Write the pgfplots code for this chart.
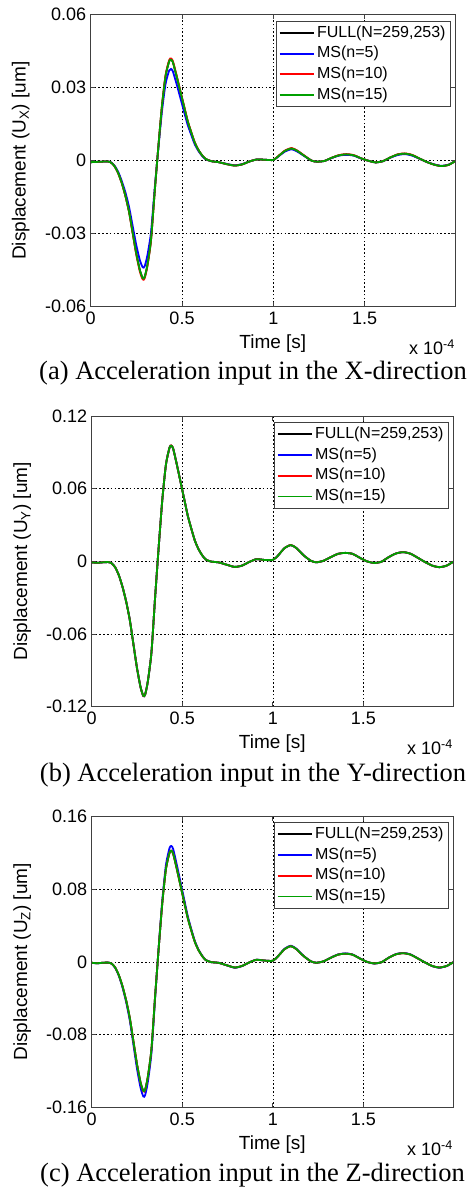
\documentclass[border=0pt]{standalone}
\usepackage{fontspec}
\setmainfont{Liberation Sans}
\newfontfamily\capfont{Liberation Serif}
\usepackage{pgfplots}
\usepackage{pgfplotstable}
\pgfplotsset{compat=1.18}

\definecolor{mblue}{RGB}{0,0,255}
\definecolor{mred}{RGB}{255,0,0}
\definecolor{mgreen}{RGB}{0,160,0}

\pgfplotstableread{
t full ms5 ms10 ms15
0.00 -0.0006 -0.0006 -0.0006 -0.0006
0.03 -0.0005 -0.0005 -0.0005 -0.0005
0.06 -0.0004 -0.0004 -0.0004 -0.0004
0.09 -0.0003 -0.0003 -0.0003 -0.0003
0.11 -0.0007 -0.0006 -0.0007 -0.0007
0.13 -0.0022 -0.0020 -0.0022 -0.0022
0.15 -0.0050 -0.0045 -0.0051 -0.0050
0.17 -0.0091 -0.0083 -0.0092 -0.0091
0.19 -0.0144 -0.0130 -0.0145 -0.0144
0.21 -0.0209 -0.0190 -0.0211 -0.0209
0.23 -0.0296 -0.0269 -0.0299 -0.0296
0.25 -0.0383 -0.0348 -0.0387 -0.0383
0.27 -0.0452 -0.0411 -0.0458 -0.0452
0.285 -0.0483 -0.0438 -0.0488 -0.0483
0.295 -0.0479 -0.0435 -0.0484 -0.0479
0.31 -0.0431 -0.0391 -0.0436 -0.0431
0.33 -0.0326 -0.0296 -0.0330 -0.0326
0.35 -0.0131 -0.0119 -0.0132 -0.0131
0.37 0.0052 0.0047 0.0053 0.0052
0.39 0.0222 0.0201 0.0224 0.0222
0.41 0.0348 0.0316 0.0352 0.0348
0.43 0.0409 0.0371 0.0414 0.0409
0.44 0.0415 0.0377 0.0420 0.0415
0.45 0.0405 0.0367 0.0409 0.0405
0.47 0.0348 0.0316 0.0352 0.0348
0.49 0.0287 0.0261 0.0290 0.0287
0.51 0.0226 0.0205 0.0229 0.0226
0.53 0.0165 0.0150 0.0167 0.0165
0.55 0.0117 0.0107 0.0119 0.0117
0.57 0.0074 0.0067 0.0075 0.0074
0.59 0.0044 0.0040 0.0044 0.0044
0.61 0.0022 0.0020 0.0022 0.0022
0.63 0.0007 0.0006 0.0007 0.0007
0.66 -0.0002 -0.0002 -0.0002 -0.0002
0.70 -0.0006 -0.0006 -0.0006 -0.0006
0.75 -0.0015 -0.0014 -0.0015 -0.0015
0.79 -0.0020 -0.0019 -0.0020 -0.0020
0.83 -0.0015 -0.0014 -0.0015 -0.0015
0.87 -0.0003 -0.0003 -0.0003 -0.0003
0.91 0.0005 0.0005 0.0005 0.0005
0.95 0.0004 0.0004 0.0004 0.0004
1.00 0.0003 0.0003 0.0003 0.0003
1.03 0.0020 0.0019 0.0021 0.0020
1.065 0.0041 0.0038 0.0042 0.0041
1.10 0.0050 0.0047 0.0052 0.0050
1.13 0.0041 0.0038 0.0042 0.0041
1.17 0.0020 0.0019 0.0021 0.0020
1.21 0.0000 0.0000 0.0000 0.0000
1.24 -0.0004 -0.0004 -0.0004 -0.0004
1.28 -0.0001 -0.0001 -0.0001 -0.0001
1.32 0.0012 0.0011 0.0012 0.0012
1.36 0.0022 0.0021 0.0023 0.0022
1.40 0.0026 0.0024 0.0027 0.0026
1.44 0.0022 0.0021 0.0023 0.0022
1.48 0.0010 0.0009 0.0010 0.0010
1.52 0.0000 0.0000 0.0000 0.0000
1.56 -0.0007 -0.0007 -0.0007 -0.0007
1.60 -0.0002 -0.0002 -0.0002 -0.0002
1.64 0.0013 0.0012 0.0013 0.0013
1.68 0.0025 0.0023 0.0026 0.0025
1.72 0.0029 0.0027 0.0030 0.0029
1.76 0.0023 0.0021 0.0024 0.0023
1.80 0.0009 0.0008 0.0009 0.0009
1.84 -0.0005 -0.0005 -0.0005 -0.0005
1.88 -0.0016 -0.0015 -0.0016 -0.0016
1.92 -0.0022 -0.0021 -0.0022 -0.0022
1.96 -0.0017 -0.0016 -0.0017 -0.0017
2.00 0.0000 0.0000 0.0000 0.0000
}\dataA

\pgfplotstableread{
t full ms5 ms10 ms15
0.00 -0.0008 -0.0008 -0.0008 -0.0008
0.03 -0.0012 -0.0012 -0.0012 -0.0012
0.06 -0.0008 -0.0008 -0.0008 -0.0008
0.09 -0.0006 -0.0006 -0.0006 -0.0006
0.11 -0.0015 -0.0015 -0.0015 -0.0015
0.13 -0.0050 -0.0050 -0.0050 -0.0050
0.15 -0.0115 -0.0115 -0.0115 -0.0115
0.17 -0.0210 -0.0210 -0.0210 -0.0210
0.19 -0.0330 -0.0330 -0.0330 -0.0330
0.21 -0.0480 -0.0480 -0.0480 -0.0480
0.23 -0.0680 -0.0680 -0.0680 -0.0680
0.25 -0.0880 -0.0880 -0.0880 -0.0880
0.27 -0.1040 -0.1040 -0.1040 -0.1040
0.285 -0.1110 -0.1112 -0.1112 -0.1110
0.295 -0.1100 -0.1100 -0.1100 -0.1100
0.31 -0.0990 -0.0990 -0.0990 -0.0990
0.33 -0.0750 -0.0750 -0.0750 -0.0750
0.35 -0.0300 -0.0300 -0.0300 -0.0300
0.37 0.0120 0.0120 0.0120 0.0120
0.39 0.0510 0.0510 0.0510 0.0510
0.41 0.0800 0.0800 0.0800 0.0800
0.43 0.0940 0.0940 0.0940 0.0940
0.44 0.0955 0.0955 0.0957 0.0955
0.45 0.0930 0.0930 0.0930 0.0930
0.47 0.0800 0.0800 0.0800 0.0800
0.49 0.0660 0.0660 0.0660 0.0660
0.51 0.0520 0.0520 0.0520 0.0520
0.53 0.0380 0.0380 0.0380 0.0380
0.55 0.0270 0.0270 0.0270 0.0270
0.57 0.0170 0.0170 0.0170 0.0170
0.59 0.0100 0.0100 0.0100 0.0100
0.61 0.0050 0.0050 0.0050 0.0050
0.63 0.0015 0.0015 0.0015 0.0015
0.66 -0.0002 -0.0002 -0.0002 -0.0002
0.70 -0.0008 -0.0008 -0.0008 -0.0008
0.75 -0.0030 -0.0030 -0.0030 -0.0030
0.79 -0.0046 -0.0046 -0.0046 -0.0046
0.83 -0.0035 -0.0035 -0.0035 -0.0035
0.87 -0.0005 -0.0005 -0.0005 -0.0005
0.91 0.0018 0.0018 0.0018 0.0018
0.95 0.0012 0.0012 0.0012 0.0012
1.00 0.0012 0.0012 0.0012 0.0012
1.03 0.0050 0.0050 0.0050 0.0050
1.065 0.0110 0.0110 0.0110 0.0110
1.10 0.0134 0.0134 0.0135 0.0134
1.13 0.0110 0.0110 0.0110 0.0110
1.17 0.0050 0.0050 0.0050 0.0050
1.21 0.0005 0.0005 0.0005 0.0005
1.24 -0.0008 -0.0008 -0.0008 -0.0008
1.28 0.0005 0.0005 0.0005 0.0005
1.32 0.0035 0.0035 0.0035 0.0035
1.36 0.0062 0.0062 0.0062 0.0062
1.40 0.0070 0.0070 0.0070 0.0070
1.44 0.0062 0.0062 0.0062 0.0062
1.48 0.0030 0.0030 0.0030 0.0030
1.52 0.0000 0.0000 0.0000 0.0000
1.56 -0.0013 -0.0013 -0.0013 -0.0013
1.60 -0.0003 -0.0003 -0.0003 -0.0003
1.64 0.0035 0.0035 0.0035 0.0035
1.68 0.0065 0.0065 0.0065 0.0065
1.72 0.0076 0.0076 0.0076 0.0076
1.76 0.0063 0.0063 0.0063 0.0063
1.80 0.0030 0.0030 0.0030 0.0030
1.84 -0.0005 -0.0005 -0.0005 -0.0005
1.88 -0.0035 -0.0035 -0.0035 -0.0035
1.92 -0.0048 -0.0048 -0.0048 -0.0048
1.96 -0.0035 -0.0035 -0.0035 -0.0035
2.00 0.0000 0.0000 0.0000 0.0000
}\dataB

\pgfplotstableread{
t full ms5 ms10 ms15
0.00 -0.0010 -0.0011 -0.0010 -0.0010
0.03 -0.0015 -0.0016 -0.0015 -0.0015
0.06 -0.0010 -0.0011 -0.0010 -0.0010
0.09 -0.0008 -0.0008 -0.0008 -0.0008
0.11 -0.0019 -0.0020 -0.0019 -0.0019
0.13 -0.0064 -0.0067 -0.0064 -0.0064
0.15 -0.0147 -0.0153 -0.0147 -0.0147
0.17 -0.0268 -0.0279 -0.0268 -0.0268
0.19 -0.0421 -0.0439 -0.0421 -0.0421
0.21 -0.0612 -0.0638 -0.0612 -0.0612
0.23 -0.0867 -0.0904 -0.0867 -0.0867
0.25 -0.1122 -0.1170 -0.1122 -0.1122
0.27 -0.1326 -0.1383 -0.1328 -0.1326
0.285 -0.1415 -0.1476 -0.1420 -0.1415
0.295 -0.1403 -0.1463 -0.1408 -0.1403
0.31 -0.1262 -0.1317 -0.1264 -0.1262
0.33 -0.0956 -0.0998 -0.0956 -0.0956
0.35 -0.0383 -0.0399 -0.0383 -0.0383
0.37 0.0153 0.0160 0.0153 0.0153
0.39 0.0650 0.0678 0.0650 0.0650
0.41 0.1020 0.1064 0.1020 0.1020
0.43 0.1199 0.1250 0.1199 0.1199
0.44 0.1218 0.1270 0.1218 0.1218
0.45 0.1186 0.1237 0.1186 0.1186
0.47 0.1020 0.1064 0.1020 0.1020
0.49 0.0842 0.0878 0.0842 0.0842
0.51 0.0663 0.0692 0.0663 0.0663
0.53 0.0485 0.0505 0.0485 0.0485
0.55 0.0344 0.0359 0.0344 0.0344
0.57 0.0217 0.0226 0.0217 0.0217
0.59 0.0128 0.0133 0.0128 0.0128
0.61 0.0064 0.0067 0.0064 0.0064
0.63 0.0019 0.0020 0.0019 0.0019
0.66 -0.0003 -0.0003 -0.0003 -0.0003
0.70 -0.0010 -0.0010 -0.0010 -0.0010
0.75 -0.0040 -0.0041 -0.0040 -0.0040
0.79 -0.0062 -0.0064 -0.0062 -0.0062
0.83 -0.0045 -0.0046 -0.0045 -0.0045
0.87 -0.0006 -0.0006 -0.0006 -0.0006
0.91 0.0023 0.0024 0.0023 0.0023
0.95 0.0015 0.0015 0.0015 0.0015
1.00 0.0012 0.0012 0.0012 0.0012
1.03 0.0064 0.0066 0.0064 0.0064
1.065 0.0140 0.0144 0.0140 0.0140
1.10 0.0172 0.0177 0.0172 0.0172
1.13 0.0140 0.0144 0.0140 0.0140
1.17 0.0064 0.0066 0.0064 0.0064
1.21 0.0006 0.0006 0.0006 0.0006
1.24 -0.0010 -0.0010 -0.0010 -0.0010
1.28 0.0006 0.0006 0.0006 0.0006
1.32 0.0045 0.0046 0.0045 0.0045
1.36 0.0079 0.0081 0.0079 0.0079
1.40 0.0090 0.0093 0.0090 0.0090
1.44 0.0079 0.0081 0.0079 0.0079
1.48 0.0038 0.0039 0.0038 0.0038
1.52 0.0000 0.0000 0.0000 0.0000
1.56 -0.0017 -0.0018 -0.0017 -0.0017
1.60 -0.0004 -0.0004 -0.0004 -0.0004
1.64 0.0045 0.0046 0.0045 0.0045
1.68 0.0083 0.0085 0.0083 0.0083
1.72 0.0095 0.0098 0.0095 0.0095
1.76 0.0080 0.0082 0.0080 0.0080
1.80 0.0038 0.0039 0.0038 0.0038
1.84 -0.0006 -0.0006 -0.0006 -0.0006
1.88 -0.0045 -0.0046 -0.0045 -0.0045
1.92 -0.0062 -0.0064 -0.0062 -0.0062
1.96 -0.0045 -0.0046 -0.0045 -0.0045
2.00 0.0000 0.0000 0.0000 0.0000
}\dataC

\pgfplotsset{
  mypanel/.style={
    scale only axis, anchor=south west,
    clip mode=individual,
    scaled x ticks=false, scaled y ticks=false,
    xmin=0, xmax=1.995,
    xtick={0,0.5,1,1.5}, xticklabels={0,0.5,1,1.5},
    grid=major,
    major grid style={black, dash pattern=on 1.6pt off 2.2pt, line width=0.6pt},
    axis line style={black!75, line width=0.9pt},
    tick style={black!75, line width=0.7pt},
    tick align=inside, major tick length=4.5pt,
    /pgf/number format/assume math mode=true,
    ticklabel style={font=\fontsize{18}{18}\selectfont},
    xticklabel style={yshift=-2pt},
    yticklabel style={xshift=-1pt},
    xlabel={Time [s]},
    xlabel style={font=\fontsize{19}{19}\selectfont, at={(axis description cs:0.5,0)}, anchor=base, yshift=-42pt},
    ylabel style={font=\fontsize{19}{19}\selectfont, at={(axis description cs:-0.192,0.5)}, anchor=center},
    legend cell align=left,
    legend style={at={(rel axis cs:1,1)}, anchor=north east, xshift=-4pt, yshift=-6pt,
      draw=black!75, line width=0.9pt, fill=white,
      font=\fontsize{16}{16}\selectfont,
      inner xsep=2.5pt, inner ysep=1.5pt, row sep=0pt,
      nodes={inner ysep=2.65pt, inner xsep=2.5pt, text height=11.8pt, text depth=3.6pt}},
    legend image code/.code={\draw[#1, line width=1.8pt] (0pt,0pt) -- (34pt,0pt);},
    every axis plot/.append style={line width=1.8pt, smooth, tension=0.4},
  }
}

\begin{document}
\begin{tikzpicture}
\useasboundingbox (0,0) rectangle (468pt,-1190pt);

% (a)
\begin{axis}[mypanel, at={(90.7pt,-306.7pt)}, width=364.3pt, height=292pt,
  ymin=-0.06, ymax=0.06, ytick={-0.06,-0.03,0,0.03,0.06},
  yticklabels={-0.06,-0.03,0,0.03,0.06},
  ylabel={Displacement (U\textsubscript{X}) [um]}]
\addplot[black] table[x=t,y=full] {\dataA};
\addplot[mblue] table[x=t,y=ms5] {\dataA};
\addplot[mred] table[x=t,y=ms10] {\dataA};
\addplot[mgreen] table[x=t,y=ms15] {\dataA};
\addlegendentry{FULL(N=259,253)}
\addlegendentry{MS(n=5)}
\addlegendentry{MS(n=10)}
\addlegendentry{MS(n=15)}
\node[anchor=base east, font=\fontsize{18}{18}\selectfont, inner sep=0pt] at ([yshift=-48pt]rel axis cs:1,0) {x 10\textsuperscript{-4}};
\end{axis}
\node[font=\fontsize{26.5}{26.5}\selectfont\capfont] at (253pt,-373pt) {(a) Acceleration input in the X-direction};

% (b)
\begin{axis}[mypanel, at={(91.7pt,-706.7pt)}, width=361.3pt, height=290.7pt,
  ymin=-0.12, ymax=0.12, ytick={-0.12,-0.06,0,0.06,0.12},
  yticklabels={-0.12,-0.06,0,0.06,0.12},
  ylabel={Displacement (U\textsubscript{Y}) [um]}]
\addplot[black] table[x=t,y=full] {\dataB};
\addplot[mblue] table[x=t,y=ms5] {\dataB};
\addplot[mred] table[x=t,y=ms10] {\dataB};
\addplot[mgreen] table[x=t,y=ms15] {\dataB};
\addlegendentry{FULL(N=259,253)}
\addlegendentry{MS(n=5)}
\addlegendentry{MS(n=10)}
\addlegendentry{MS(n=15)}
\node[anchor=base east, font=\fontsize{18}{18}\selectfont, inner sep=0pt] at ([yshift=-48pt]rel axis cs:1,0) {x 10\textsuperscript{-4}};
\end{axis}
\node[font=\fontsize{26.5}{26.5}\selectfont\capfont] at (253pt,-775pt) {(b) Acceleration input in the Y-direction};

% (c)
\begin{axis}[mypanel, at={(91.7pt,-1107.7pt)}, width=361.3pt, height=291.7pt,
  ymin=-0.16, ymax=0.16, ytick={-0.16,-0.08,0,0.08,0.16},
  yticklabels={-0.16,-0.08,0,0.08,0.16},
  ylabel={Displacement (U\textsubscript{Z}) [um]}]
\addplot[black] table[x=t,y=full] {\dataC};
\addplot[mblue] table[x=t,y=ms5] {\dataC};
\addplot[mred] table[x=t,y=ms10] {\dataC};
\addplot[mgreen] table[x=t,y=ms15] {\dataC};
\addlegendentry{FULL(N=259,253)}
\addlegendentry{MS(n=5)}
\addlegendentry{MS(n=10)}
\addlegendentry{MS(n=15)}
\node[anchor=base east, font=\fontsize{18}{18}\selectfont, inner sep=0pt] at ([yshift=-48pt]rel axis cs:1,0) {x 10\textsuperscript{-4}};
\end{axis}
\node[font=\fontsize{26.5}{26.5}\selectfont\capfont] at (252.5pt,-1175pt) {(c) Acceleration input in the Z-direction};
\end{tikzpicture}
\end{document}
